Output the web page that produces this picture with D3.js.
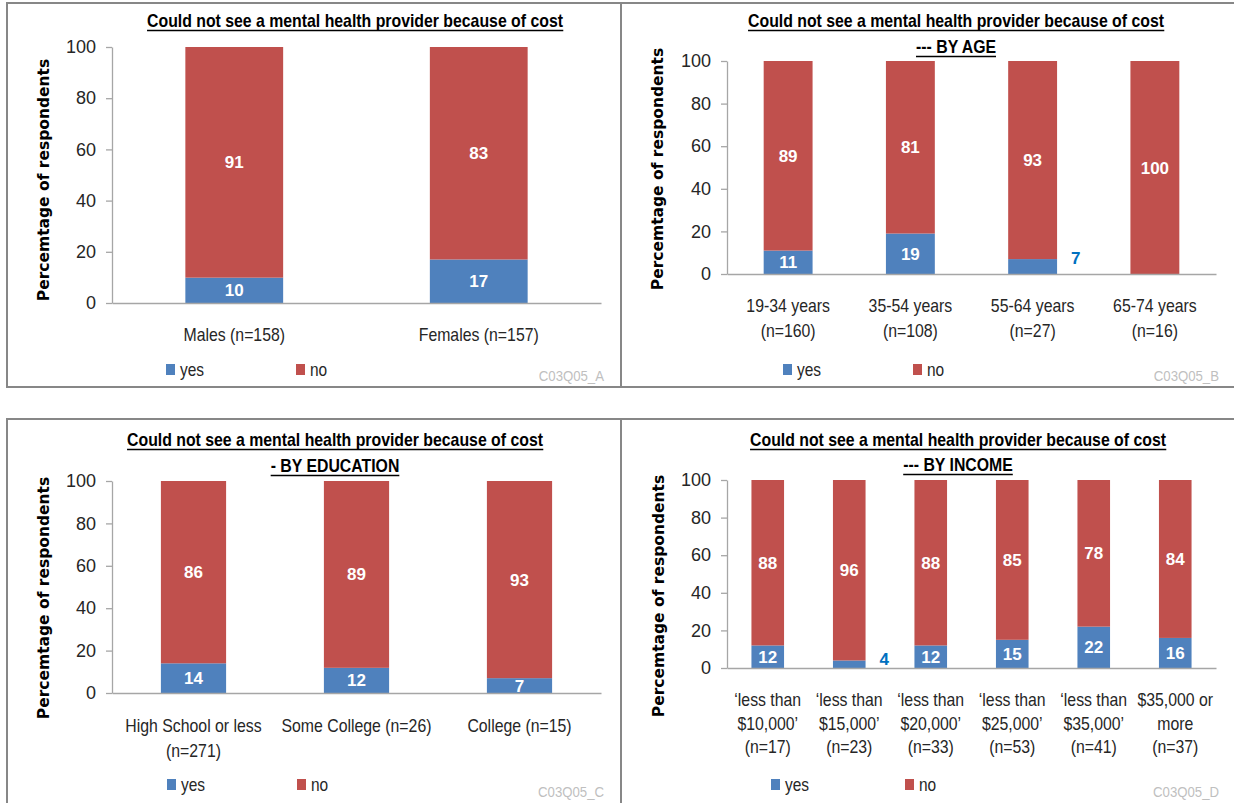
<!DOCTYPE html>
<html><head><meta charset="utf-8">
<script src="https://cdn.jsdelivr.net/npm/d3@7"></script>
<style>body{margin:0;background:#fff;} svg{display:block;}</style>
</head><body>
<svg id="chart" width="1234" height="803"></svg>
<script>
// ---------------- DATA ----------------
const mainTitle = "Could not see a mental health provider because of cost";
const subTitles = ["", "--- BY AGE", "- BY EDUCATION", "--- BY INCOME"];
const seriesNames = ["yes", "no"];
const yTickValues = [0, 20, 40, 60, 80, 100];
const yAxisTitle = "Percemtage of respondents";
const chartCodes = ["C03Q05_A", "C03Q05_B", "C03Q05_C", "C03Q05_D"];

const genderCategories = [["Males (n=158)"], ["Females (n=157)"]];
const genderYes = [10, 17];
const genderNo = [91, 83];

const ageCategories = [["19-34 years", "(n=160)"], ["35-54 years", "(n=108)"], ["55-64 years", "(n=27)"], ["65-74 years", "(n=16)"]];
const ageYes = [11, 19, 7, 0];
const ageNo = [89, 81, 93, 100];

const educationCategories = [["High School or less", "(n=271)"], ["Some College (n=26)"], ["College (n=15)"]];
const educationYes = [14, 12, 7];
const educationNo = [86, 89, 93];

const incomeCategories = [["\u2018less than", "$10,000\u2019", "(n=17)"], ["\u2018less than", "$15,000\u2019", "(n=23)"], ["\u2018less than", "$20,000\u2019", "(n=33)"], ["\u2018less than", "$25,000\u2019", "(n=53)"], ["\u2018less than", "$35,000\u2019", "(n=41)"], ["$35,000 or", "more", "(n=37)"]];
const incomeYes = [12, 4, 12, 15, 22, 16];
const incomeNo = [88, 96, 88, 85, 78, 84];

// ---------------- STYLE / LAYOUT ----------------
const colors = { yes: "#4F81BD", no: "#C0504D" };
const FONT = "'Liberation Sans', Arial, sans-serif";
const K = 0.88; // horizontal condense factor for text

const layouts = [
  { box: [7, 3, 614, 384], x0: 112, x1: 601, yTop: 47, yBot: 303, titleCX: 355, titleY: [27],
    catY: 341, catLH: 24, legY: 370, legYesX: 166, legNoX: 296, yTitleX: 44, yTitleY: 180,
    codeX: 604, codeY: 381, outside: [] },
  { box: [621, 3, 640, 384], x0: 727, x1: 1216, yTop: 61, yBot: 274, titleCX: 956, titleY: [27, 53],
    catY: 312, catLH: 25, legY: 370, legYesX: 783, legNoX: 913, yTitleX: 658, yTitleY: 169,
    codeX: 1219, codeY: 381, outside: [2] },
  { box: [7, 419, 614, 420], x0: 112, x1: 601, yTop: 481, yBot: 693, titleCX: 335, titleY: [446, 472],
    catY: 732, catLH: 25, legY: 785, legYesX: 167, legNoX: 297, yTitleX: 44, yTitleY: 598,
    codeX: 604, codeY: 797, outside: [] },
  { box: [621, 419, 640, 420], x0: 727, x1: 1216, yTop: 480, yBot: 668, titleCX: 958, titleY: [446, 471],
    catY: 706, catLH: 23.5, legY: 785, legYesX: 771, legNoX: 905, yTitleX: 659, yTitleY: 596,
    codeX: 1219, codeY: 797, outside: [1] }
];

const svg = d3.select("#chart");

function ctext(parent, x, y, str, o) {
  const g = parent.append("g").attr("transform", `translate(${x},${y}) scale(${o.k || K},1)`);
  const t = g.append("text").attr("x", 0).attr("y", 0)
    .attr("text-anchor", o.anchor || "middle")
    .style("font-family", o.family || FONT)
    .style("font-size", (o.size || 18) + "px")
    .style("font-weight", o.weight || "normal")
    .attr("fill", o.fill || "#262626")
    .text(str);
  if (o.underline) {
    const bb = t.node().getBBox();
    g.append("line").attr("x1", bb.x).attr("x2", bb.x + bb.width)
      .attr("y1", 3.5).attr("y2", 3.5).attr("stroke", "#000").attr("stroke-width", 1.3);
  }
  return g;
}

function drawPanel(idx, cats, yes, no) {
  const L = layouts[idx];
  const g = svg.append("g");
  g.append("rect").attr("x", L.box[0]).attr("y", L.box[1]).attr("width", L.box[2]).attr("height", L.box[3])
    .attr("fill", "none").attr("stroke", "#878787").attr("stroke-width", 2);

  const keys = cats.map(c => c.join(" "));
  const x = d3.scaleBand().domain(keys).range([L.x0, L.x1]).paddingInner(0.6).paddingOuter(0.3);
  const y = d3.scaleLinear().domain([0, 1]).range([L.yBot, L.yTop]);
  const rows = keys.map((k, i) => ({ key: k, yes: yes[i], no: no[i] }));
  const stacked = d3.stack().keys(seriesNames).offset(d3.stackOffsetExpand)(rows);

  // axes
  const yAxis = d3.axisLeft(y).tickValues(yTickValues.map(v => v / 100))
    .tickFormat((d, i) => yTickValues[i]).tickSize(6).tickSizeOuter(0).tickPadding(10);
  const ya = g.append("g").attr("transform", `translate(${L.x0},0)`).call(yAxis);
  ya.select(".domain").attr("stroke", "#a6a6a6").attr("stroke-width", 1.3);
  ya.selectAll(".tick line").attr("stroke", "#a6a6a6").attr("stroke-width", 1.3);
  ya.selectAll(".tick text").style("font-family", FONT).style("font-size", "18px").attr("fill", "#262626");

  // bars
  stacked.forEach(s => {
    g.append("g").selectAll("rect").data(s).join("rect")
      .attr("x", d => x(d.data.key)).attr("width", x.bandwidth())
      .attr("y", d => y(d[1])).attr("height", d => y(d[0]) - y(d[1]))
      .attr("fill", colors[s.key]);
  });

  const xa = d3.axisBottom(x).tickSize(0).tickFormat("");
  const xg = g.append("g").attr("transform", `translate(0,${L.yBot})`).call(xa);
  xg.select(".domain").attr("stroke", "#a6a6a6").attr("stroke-width", 1.3);

  // value labels
  stacked.forEach(s => {
    s.forEach((d, i) => {
      const v = d.data[s.key];
      if (!v) return;
      const out = s.key === "yes" && L.outside.includes(i);
      const cx = out ? x(d.data.key) + x.bandwidth() + 14 : x(d.data.key) + x.bandwidth() / 2;
      const cy = out ? y(d[1]) - 1 : (y(d[0]) + y(d[1])) / 2;
      g.append("text").attr("x", cx).attr("y", cy + 6)
        .attr("text-anchor", out ? "start" : "middle")
        .style("font-family", FONT).style("font-size", "17px").style("font-weight", "bold")
        .attr("fill", out ? "#0070C0" : "#ffffff").text(v);
    });
  });

  // category labels
  cats.forEach((lines, i) => {
    const cx = x(keys[i]) + x.bandwidth() / 2;
    lines.forEach((ln, j) => ctext(g, cx, L.catY + j * L.catLH, ln, { size: 18, k: 0.88 }));
  });

  // titles
  const tl = [mainTitle].concat(subTitles[idx] ? [subTitles[idx]] : []);
  tl.forEach((t, j) => ctext(g, L.titleCX, L.titleY[j], t, { size: 18, weight: "bold", fill: "#000", underline: true, k: 0.88 }));

  // y axis title
  g.append("text").attr("transform", `translate(${L.yTitleX},${L.yTitleY}) rotate(-90)`)
    .attr("text-anchor", "middle").attr("dy", "0.35em")
    .style("font-family", "'DejaVu Sans', Verdana, sans-serif").style("font-size", "15.5px").style("font-weight", "bold")
    .attr("fill", "#000").text(yAxisTitle);

  // legend
  [[L.legYesX, "yes"], [L.legNoX, "no"]].forEach(([lx, name]) => {
    g.append("rect").attr("x", lx).attr("y", L.legY - 6).attr("width", 9).attr("height", 11).attr("fill", colors[name]);
    ctext(g, lx + 14, L.legY + 6, name, { size: 18, anchor: "start", k: 0.86 });
  });

  // code label
  ctext(g, L.codeX, L.codeY, chartCodes[idx], { size: 15, anchor: "end", fill: "#bfbfbf", k: 0.88 });
}

drawPanel(0, genderCategories, genderYes, genderNo);
drawPanel(1, ageCategories, ageYes, ageNo);
drawPanel(2, educationCategories, educationYes, educationNo);
drawPanel(3, incomeCategories, incomeYes, incomeNo);
</script>
</body></html>
